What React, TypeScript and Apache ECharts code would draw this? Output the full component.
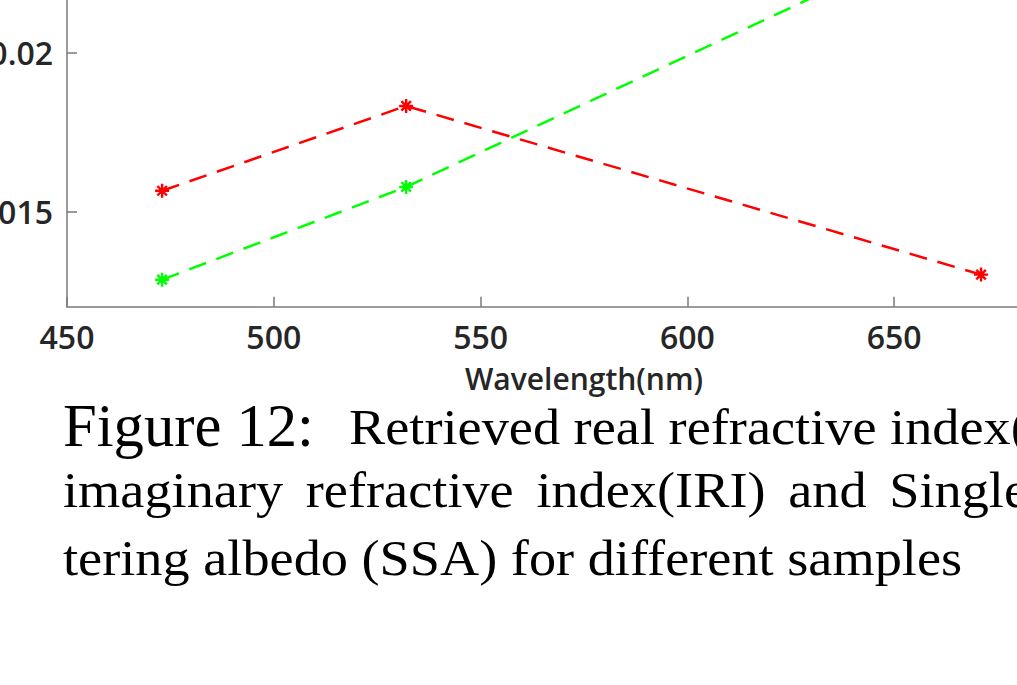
import { useEffect, useRef } from 'react';
import * as echarts from 'echarts';

// Measured wavelengths (nm) and the retrieved values for two samples
const wavelengths = [473, 532, 671];
const sampleRed = [0.01565, 0.01832, 0.01301];
const sampleGreen = [0.01285, 0.01577, 0.02421];

// Axis ranges and ticks
const xMin = 450;
const xMax = 700;
const xStep = 50;
const yMin = 0.012;
const yMax = 0.026;
const yTickValues = [0.015, 0.02, 0.025];

// Caption text
const captionHead = 'Figure 12:';
const captionLine1 = 'Retrieved real refractive index(';
const captionLine2Words = ['imaginary', 'refractive', 'index(IRI)', 'and', 'Single'];
const captionLine3 = 'tering albedo (SSA) for different samples';

const SANS = '"Open Sans", "Noto Sans", sans-serif';
const SERIF = '"Liberation Serif", "Times New Roman", serif';
const AXIS_GRAY = '#7a7a7a';
const LABEL_COLOR = '#262626';

// The figure is larger than the visible page: it is shifted up so that
// only the lower part of the plot and the caption show.
const PAGE_W = 1017;
const PAGE_H = 685;
const SHIFT_Y = 140;
const CHART_W = 1140;
const CHART_H = PAGE_H + SHIFT_Y;

// MATLAB-style asterisk marker: a plus and a cross on top of each other
const ASTERISK = 'path://M0,5L10,5M5,0L5,10M1.6,1.6L8.4,8.4M8.4,1.6L1.6,8.4';

function textWidth(text: string, font: string): number {
  const ctx = document.createElement('canvas').getContext('2d');
  if (!ctx) return text.length * 20;
  ctx.font = font;
  return ctx.measureText(text).width;
}

function buildCaption(): any[] {
  const bodySize = 50;
  const headSize = 62;
  const bodyFont = `${bodySize}px ${SERIF}`;
  const headFont = `${headSize}px ${SERIF}`;
  const bodyScale = 899 / textWidth(captionLine3, bodyFont);
  const headScale = 251 / textWidth(captionHead, headFont);
  // vertical offset from the text centre line to the alphabetic baseline
  const bodyShift = bodySize * 0.36;
  const headShift = headSize * 0.33;
  const left = 63;

  const mk = (text: string, x: number, baseline: number, size: number, shift: number, sx: number) => ({
    type: 'text',
    x,
    y: baseline - shift + SHIFT_Y,
    scaleX: sx,
    silent: true,
    style: {
      text,
      fontFamily: SERIF,
      fontSize: size,
      fill: '#000000',
      align: 'left',
      verticalAlign: 'middle',
    },
  });

  const out: any[] = [];
  out.push(mk(captionHead, left, 445, headSize, headShift, headScale));
  out.push(mk(captionLine1, 349, 445, bodySize, bodyShift, bodyScale));

  // second line is justified between the left margin and the page edge
  const widths = captionLine2Words.map((w) => textWidth(w, bodyFont) * bodyScale);
  const total = widths.reduce((a, b) => a + b, 0);
  const right = 1028;
  const gap = (right - left - total) / (captionLine2Words.length - 1);
  let cx = left;
  captionLine2Words.forEach((w, i) => {
    out.push(mk(w, cx, 508, bodySize, bodyShift, bodyScale));
    cx += widths[i] + gap;
  });

  out.push(mk(captionLine3, left, 576, bodySize, bodyShift, bodyScale));
  return out;
}

export default function App() {
  const ref = useRef<HTMLDivElement>(null);

  useEffect(() => {
    if (!ref.current) return;
    const chart = echarts.init(ref.current, undefined, { renderer: 'svg' });

    const tickLabel = {
      fontFamily: SANS,
      fontSize: 32,
      fontWeight: 600,
      color: LABEL_COLOR,
    };

    const seriesStyle = (color: string) => ({
      type: 'line',
      symbol: ASTERISK,
      symbolSize: 14,
      lineStyle: { color, width: 2.5, type: [18, 11] },
      itemStyle: { color, borderColor: color, borderWidth: 2.4 },
      emphasis: { disabled: true },
    });

    chart.setOption({
      animation: false,
      backgroundColor: '#ffffff',
      grid: {
        left: 67,
        right: CHART_W - 1101,
        top: 2,
        bottom: CHART_H - (306.7 + SHIFT_Y),
        containLabel: false,
        outerBoundsMode: 'none',
      },
      xAxis: {
        type: 'value',
        min: xMin,
        max: xMax,
        interval: xStep,
        name: 'Wavelength(nm)',
        nameLocation: 'middle',
        nameGap: 57,
        nameTextStyle: {
          fontFamily: SANS,
          fontSize: 30,
          fontWeight: 600,
          color: LABEL_COLOR,
        },
        axisLine: { show: true, onZero: false, lineStyle: { color: AXIS_GRAY, width: 1.5 } },
        axisTick: { show: true, inside: true, length: 10, lineStyle: { color: AXIS_GRAY, width: 1.5 } },
        axisLabel: { ...tickLabel, margin: 14 },
        splitLine: { show: false },
      },
      yAxis: {
        type: 'value',
        min: yMin,
        max: yMax,
        axisLine: { show: true, onZero: false, lineStyle: { color: AXIS_GRAY, width: 1.5 } },
        axisTick: {
          show: true,
          inside: true,
          length: 10,
          customValues: yTickValues,
          lineStyle: { color: AXIS_GRAY, width: 1.5 },
        },
        axisLabel: {
          ...tickLabel,
          margin: 14,
          customValues: yTickValues,
          formatter: (v: number) => String(+v.toFixed(4)),
        },
        splitLine: { show: false },
      },
      series: [
        {
          ...seriesStyle('#00ff00'),
          data: wavelengths.map((w, i) => [w, sampleGreen[i]]),
        },
        {
          ...seriesStyle('#ff0000'),
          data: wavelengths.map((w, i) => [w, sampleRed[i]]),
        },
      ],
      graphic: buildCaption(),
    });

    return () => chart.dispose();
  }, []);

  return (
    <div
      style={{
        position: 'fixed',
        left: 0,
        top: 0,
        width: PAGE_W,
        height: PAGE_H,
        overflow: 'hidden',
        background: '#ffffff',
      }}
    >
      <div
        ref={ref}
        style={{ position: 'absolute', left: 0, top: -SHIFT_Y, width: CHART_W, height: CHART_H }}
      />
    </div>
  );
}
